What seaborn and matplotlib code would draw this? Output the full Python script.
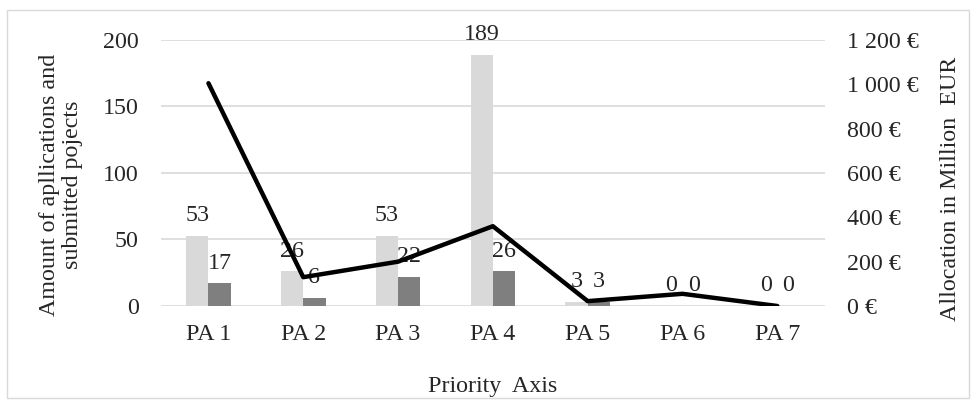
import matplotlib
matplotlib.use('Agg')
import matplotlib.pyplot as plt
import pandas as pd
import seaborn as sns
from matplotlib.patches import Rectangle
from matplotlib.ticker import FuncFormatter

# Data
axes_labels = ['PA 1', 'PA 2', 'PA 3', 'PA 4', 'PA 5', 'PA 6', 'PA 7']
applications = [53, 26, 53, 189, 3, 0, 0]
submitted = [17, 6, 22, 26, 3, 0, 0]
allocation = [1005, 130, 200, 360, 22, 55, 0]

sns.set_style('white')
plt.rcParams['font.family'] = ['Liberation Serif', 'DejaVu Serif']
plt.rcParams['font.size'] = 17.3

df_bar = pd.DataFrame({
    'axis': axes_labels * 2,
    'value': applications + submitted,
    'kind': ['Applications'] * 7 + ['Submitted'] * 7,
})
df_line = pd.DataFrame({'axis': axes_labels, 'allocation': allocation})

fig = plt.figure(figsize=(9.76, 4.08), dpi=100)
ax = fig.add_axes([0.165, 0.25, 0.68, 0.652])

sns.barplot(data=df_bar, x='axis', y='value', hue='kind',
            palette=['#d9d9d9', '#7f7f7f'], width=0.47, linewidth=0,
            saturation=1, ax=ax, legend=False, zorder=2)
for c in ax.containers:
    ax.bar_label(c, labels=[str(int(v)) for v in c.datavalues],
                 padding=7)

ax.set_ylim(0, 200)
ax.set_yticks([0, 50, 100, 150, 200])
ax.set_xlim(-0.5, 6.5)
ax.grid(axis='y', color='#d9d9d9', linewidth=1.2, zorder=0)
ax.set_axisbelow(True)
ax.set_xlabel('Priority  Axis', labelpad=22)
ax.set_ylabel('Amount of apllications and\nsubmitted pojects', labelpad=14,
              linespacing=1.15)
ax.yaxis.label.set_y(0.455)
ax.tick_params(axis='both', length=0)
ax.tick_params(axis='y', pad=16)
ax.tick_params(axis='x', pad=13)
sns.despine(ax=ax, left=True, bottom=True)

ax2 = ax.twinx()
sns.lineplot(data=df_line, x='axis', y='allocation', color='black',
             linewidth=3.2, ax=ax2, sort=False)
ax2.set_ylim(0, 1200)
ax2.set_yticks(range(0, 1201, 200))
ax2.yaxis.set_major_formatter(FuncFormatter(
    lambda v, p: f'{int(v):,} €'.replace(',', ' ')))
ax2.set_ylabel('Allocation in Million  EUR', labelpad=15)
ax2.yaxis.label.set_y(0.44)
ax2.tick_params(axis='y', length=0, pad=16)
ax2.set_xlim(-0.5, 6.5)
sns.despine(ax=ax2, left=True, bottom=True, right=True)

fig.patches.append(Rectangle((0.007, 0.025), 0.986, 0.95, transform=fig.transFigure,
                             fill=False, edgecolor='#d9d9d9', linewidth=1))

fig.savefig('out.png', dpi=100)
